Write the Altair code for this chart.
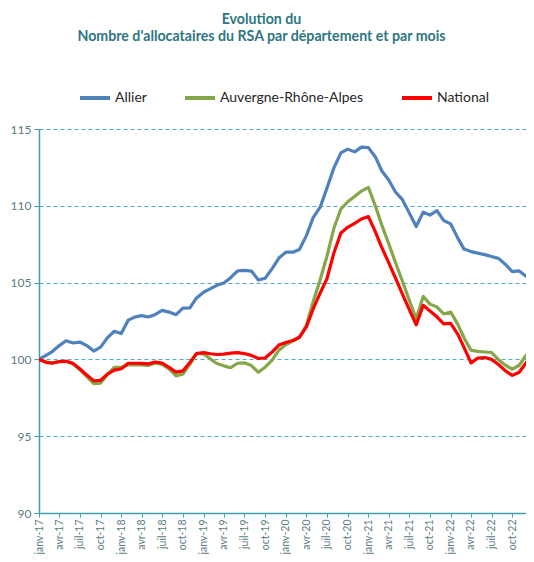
import altair as alt
import pandas as pd

months_fr = ["janv", "févr", "mars", "avr", "mai", "juin",
             "juil", "août", "sept", "oct", "nov", "déc"]
n_months = 73
dates = [f"{2017 + i // 12}-{i % 12 + 1:02d}-01" for i in range(n_months)]

allier = [100.0, 100.26, 100.51, 100.9, 101.21, 101.07, 101.13, 100.9, 100.54, 100.8,
          101.42, 101.83, 101.68, 102.56, 102.75, 102.85, 102.76, 102.93, 103.19, 103.08,
          102.91, 103.34, 103.35, 104.0, 104.37, 104.61, 104.82, 104.98, 105.32, 105.76,
          105.79, 105.75, 105.17, 105.28, 105.91, 106.6, 106.98, 106.98, 107.16, 108.06,
          109.23, 109.91, 111.14, 112.47, 113.45, 113.69, 113.51, 113.82, 113.79, 113.18,
          112.28, 111.68, 110.9, 110.4, 109.54, 108.65, 109.59, 109.4, 109.68, 109.04,
          108.82, 107.91, 107.18, 107.02, 106.92, 106.82, 106.70, 106.58, 106.18, 105.72,
          105.76, 105.42, 105.68]

ara = [100.0, 99.84, 99.78, 99.86, 99.88, 99.71, 99.33, 98.88, 98.42, 98.46,
       99.02, 99.49, 99.49, 99.65, 99.65, 99.64, 99.61, 99.77, 99.67, 99.38,
       98.93, 99.05, 99.68, 100.39, 100.36, 100.02, 99.73, 99.58, 99.46, 99.75,
       99.78, 99.6, 99.16, 99.49, 99.95, 100.6, 100.97, 101.19, 101.44, 102.22,
       103.76, 105.19, 106.71, 108.54, 109.79, 110.26, 110.6, 110.96, 111.2, 109.98,
       108.76, 107.54, 106.31, 105.09, 103.87, 102.65, 104.1, 103.6, 103.41, 102.96,
       103.08, 102.3, 101.41, 100.6, 100.52, 100.48, 100.45, 99.98, 99.62, 99.37,
       99.62, 100.26, 100.8]

national = [100.0, 99.81, 99.75, 99.86, 99.88, 99.74, 99.39, 98.98, 98.61, 98.64,
            99.04, 99.3, 99.39, 99.75, 99.75, 99.74, 99.71, 99.83, 99.76, 99.48,
            99.17, 99.25, 99.8, 100.38, 100.44, 100.37, 100.32, 100.34, 100.41, 100.44,
            100.38, 100.26, 100.06, 100.09, 100.48, 100.93, 101.1, 101.23, 101.44, 102.12,
            103.29, 104.31, 105.25, 106.93, 108.23, 108.6, 108.86, 109.14, 109.3, 108.3,
            107.3, 106.3, 105.3, 104.25, 103.25, 102.25, 103.52, 103.15, 102.77, 102.31,
            102.34, 101.65, 100.78, 99.77, 100.08, 100.12, 100.0, 99.67, 99.25, 98.96,
            99.16, 99.77, 100.4]

series_names = ["Allier", "Auvergne-Rhône-Alpes", "National"]
series_colors = ["#4F81BD", "#86A64A", "#FF0000"]
y_ticks = [90, 95, 100, 105, 110, 115]

title_lines = ["Evolution du",
               "Nombre d'allocataires du RSA par département et par mois"]

rows = []
for name, vals in zip(series_names, [allier, ara, national]):
    for d, v in zip(dates, vals):
        rows.append({"date": d, "serie": name, "value": v})
df = pd.DataFrame(rows)

tick_dates = [alt.DateTime(year=2017 + i // 12, month=i % 12 + 1, date=1, utc=True)
              for i in range(0, 72, 3)]
months_js = "[" + ",".join(f"'{m}'" for m in months_fr) + "]"
label_expr = months_js + "[utcmonth(datum.value)] + '-' + utcFormat(datum.value, '%y')"

teal_axis = "#3E9FAF"
label_col = "#5B7C82"

chart = alt.Chart(df).mark_line(
    strokeWidth=3.2, strokeJoin="round", strokeCap="round", clip=True
).encode(
    x=alt.X(
        "date:T",
        scale=alt.Scale(
            type="utc",
            domain=[alt.DateTime(year=2017, month=1, date=1, utc=True),
                    alt.DateTime(year=2022, month=12, date=1, utc=True)],
        ),
        axis=alt.Axis(
            values=tick_dates, labelExpr=label_expr, title=None, grid=False,
            labelAngle=270, labelFont="Lato", labelFontSize=10.5, labelColor=label_col,
            labelPadding=2, domainColor=teal_axis, domainWidth=1.5,
            tickColor=teal_axis, tickSize=4, labelOverlap=False,
        ),
    ),
    y=alt.Y(
        "value:Q",
        scale=alt.Scale(domain=[90, 115], nice=False, zero=False),
        axis=alt.Axis(
            values=y_ticks, title=None, grid=True, gridColor="#4BACC6",
            gridDash=[4, 3], gridWidth=1, domainColor=teal_axis, domainWidth=1.5,
            tickColor=teal_axis, tickSize=5, labelFont="Lato", labelFontSize=12,
            labelColor=label_col, labelPadding=3,
        ),
    ),
    color=alt.Color(
        "serie:N",
        scale=alt.Scale(domain=series_names, range=series_colors),
        sort=series_names,
        legend=alt.Legend(
            title=None, orient="none", direction="horizontal", legendX=39, legendY=-48,
            symbolType="stroke", symbolSize=900, symbolStrokeWidth=4,
            labelFont="Lato", labelFontSize=14, labelColor="#262626",
            columnPadding=30, labelOffset=3, padding=0,
        ),
    ),
).properties(
    width=487,
    height=384,
    autosize=alt.AutoSizeParams(type="none"),
    padding={"left": 31, "top": 121, "right": 0, "bottom": 41},
    title=alt.TitleParams(
        text=["\u00a0" * 16 + title_lines[0], title_lines[1]],
        font="Lato", fontSize=14.2, fontWeight="bold", color="#2E7682",
        anchor="middle", frame="group", dx=-21, offset=37, lineHeight=17,
    ),
).configure_view(stroke=None)

chart.save("out.html", embed_options={"renderer": "svg", "actions": False})
